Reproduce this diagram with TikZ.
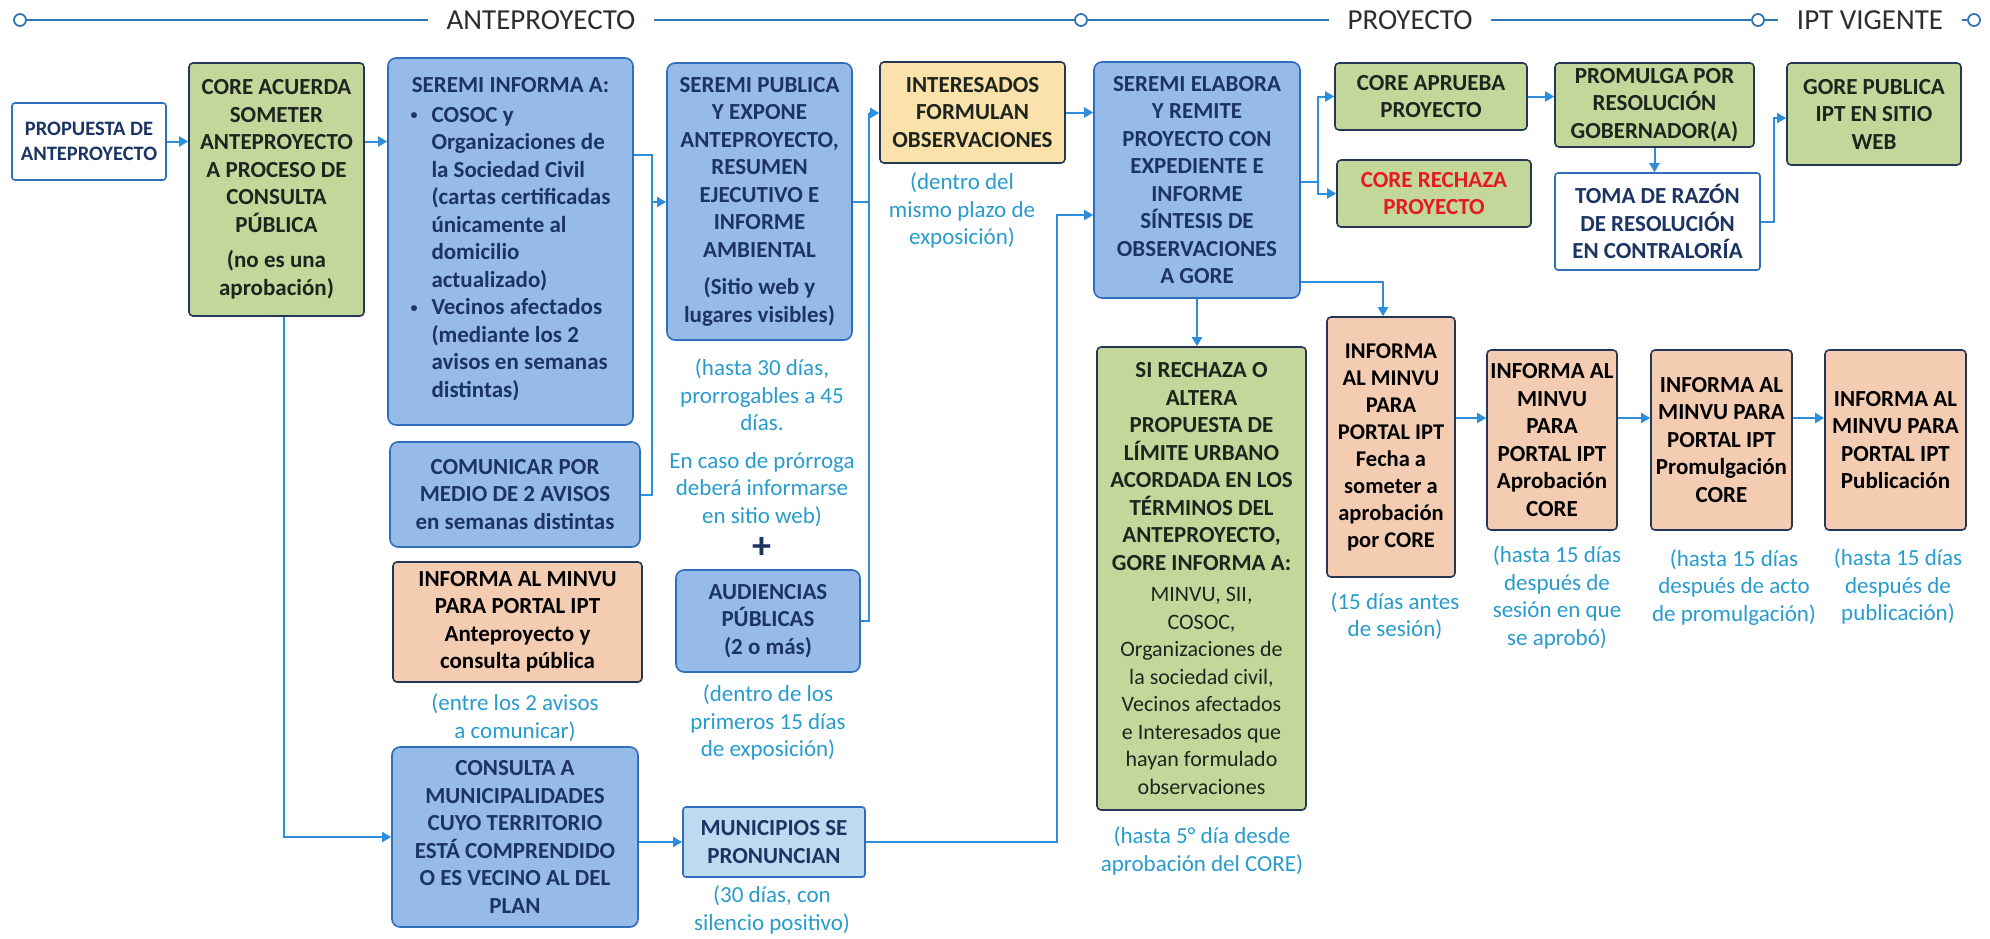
\documentclass[tikz,border=0pt]{standalone}
\usepackage{fontspec}
\setmainfont{Carlito}
\usetikzlibrary{arrows.meta}

\definecolor{bxblue}{RGB}{150,187,232}
\definecolor{bxlight}{RGB}{190,218,240}
\definecolor{bxgreen}{RGB}{196,215,155}
\definecolor{bxtan}{RGB}{243,204,178}
\definecolor{bxyellow}{RGB}{250,226,170}
\definecolor{bdblue}{RGB}{47,110,186}
\definecolor{bddark}{RGB}{38,55,85}
\definecolor{txnavy}{RGB}{28,52,100}
\definecolor{txdark}{RGB}{30,36,30}
\definecolor{txred}{RGB}{230,25,35}
\definecolor{capblue}{RGB}{40,155,205}
\definecolor{lnblue}{RGB}{45,143,219}
\definecolor{hdgray}{RGB}{45,45,45}
\definecolor{hdblue}{RGB}{46,117,182}

\newcommand{\reg}[1]{{\mdseries\fontsize{22}{27.5}\selectfont #1}}
\newcommand{\dotitem}{\raisebox{2.5pt}{\fontsize{14}{14}\selectfont\textbullet}}

\tikzset{
  box/.style={draw, line width=1.6pt, align=center, inner sep=2pt,
    font=\fontsize{23}{27.5}\selectfont\bfseries},
  bluebox/.style={box, rounded corners=8pt, fill=bxblue, draw=bdblue, text=txnavy},
  lightbox/.style={box, rounded corners=3pt, fill=bxlight, draw=bdblue, text=txnavy},
  whitebox/.style={box, rounded corners=3pt, fill=white, draw=bdblue, text=txnavy},
  greenbox/.style={box, rounded corners=4pt, fill=bxgreen, draw=bddark, text=txdark},
  tanbox/.style={box, rounded corners=4pt, fill=bxtan, draw=bddark, text=black},
  yellowbox/.style={box, rounded corners=4pt, fill=bxyellow, draw=bddark, text=txdark},
  note/.style={align=center, text=capblue, font=\fontsize{23}{27.5}\selectfont},
  link/.style={draw=lnblue, line width=2pt},
  hdr/.style={font=\fontsize{29}{34}\selectfont, text=hdgray, inner xsep=19pt, outer sep=0pt},
  dot/.style={circle, draw=hdblue, fill=white, line width=1.8pt, minimum size=12pt, inner sep=0pt},
  rule/.style={draw=hdblue, line width=2.2pt}
}

\begin{document}
\begin{tikzpicture}[x=1pt, y=-1pt, >={Triangle[length=9pt,width=10pt]}]
\useasboundingbox (0,0) rectangle (1990,938);

% fases
\node[dot] (d1) at (20,20) {};
\node[hdr] (ante) at (541,20) {ANTEPROYECTO};
\node[dot] (d2) at (1081,20) {};
\node[hdr] (proy) at (1410,20) {PROYECTO};
\node[dot] (d3) at (1758,20) {};
\node[hdr] (vig) at (1870,20) {IPT VIGENTE};
\node[dot] (d4) at (1974,20) {};
\draw[rule] (d1) -- (ante);
\draw[rule] (ante) -- (d2);
\draw[rule] (d2) -- (proy);
\draw[rule] (proy) -- (d3);
\draw[rule] (d3) -- (vig);
\draw[rule] (vig) -- (d4);

% anteproyecto
\node[whitebox, minimum width=154pt, minimum height=77pt, font=\fontsize{20.5}{25}\selectfont\bfseries] (prop) at (89,141.5) {PROPUESTA DE\\ANTEPROYECTO};
\node[greenbox, minimum width=175pt, minimum height=253pt] (core) at (276.5,189.5) {CORE ACUERDA\\SOMETER\\ANTEPROYECTO\\A PROCESO DE\\CONSULTA\\PÚBLICA\\[8pt](no es una\\aprobación)};
\node[bluebox, minimum width=245pt, minimum height=367pt] (inf) at (510.5,241.5) {SEREMI INFORMA A:\\[2pt]
  \begin{tabular}[t]{@{}l@{\hspace{14pt}}l@{}}
  \dotitem & COSOC y\\
   & Organizaciones de\\
   & la Sociedad Civil\\
   & (cartas certificadas\\
   & únicamente al\\
   & domicilio\\
   & actualizado)\\
  \dotitem & Vecinos afectados\\
   & (mediante los 2\\
   & avisos en semanas\\
   & distintas)
  \end{tabular}};
\node[bluebox, minimum width=250pt, minimum height=105pt] (com) at (515,494.5) {COMUNICAR POR\\MEDIO DE 2 AVISOS\\en semanas distintas};
\node[tanbox, minimum width=249pt, minimum height=120pt] (minvu1) at (517.5,622) {INFORMA AL MINVU\\PARA PORTAL IPT\\Anteproyecto y\\consulta pública};
\node[note] (nminvu1) at (515,717.5) {(entre los 2 avisos\\a comunicar)};
\node[bluebox, minimum width=246pt, minimum height=180pt] (cons) at (515,837) {CONSULTA A\\MUNICIPALIDADES\\CUYO TERRITORIO\\ESTÁ COMPRENDIDO\\O ES VECINO AL DEL\\PLAN};

\node[bluebox, minimum width=185pt, minimum height=277pt] (pub) at (759.5,201.5) {SEREMI PUBLICA\\Y EXPONE\\ANTEPROYECTO,\\RESUMEN\\EJECUTIVO E\\INFORME\\AMBIENTAL\\[10pt](Sitio web y\\lugares visibles)};
\node[note] (npub) at (762,442.5) {(hasta 30 días,\\prorrogables a 45\\días.\\[10pt]En caso de prórroga\\deberá informarse\\en sitio web)};
\node[text=txnavy, font=\fontsize{38}{38}\selectfont\bfseries] (plus) at (762,548) {+};
\node[bluebox, minimum width=184pt, minimum height=102pt] (aud) at (768,621) {AUDIENCIAS\\PÚBLICAS\\(2 o más)};
\node[note] (naud) at (768,722.5) {(dentro de los\\primeros 15 días\\de exposición)};
\node[lightbox, minimum width=182pt, minimum height=70pt] (mun) at (774,842) {MUNICIPIOS SE\\PRONUNCIAN};
\node[note] (nmun) at (772,910) {(30 días, con\\silencio positivo)};

\node[yellowbox, minimum width=185pt, minimum height=101pt] (int) at (972.5,112.5) {INTERESADOS\\FORMULAN\\OBSERVACIONES};
\node[note] (nint) at (962,210.5) {(dentro del\\mismo plazo de\\exposición)};

% proyecto
\node[bluebox, minimum width=206pt, minimum height=236pt] (ela) at (1197,180) {SEREMI ELABORA\\Y REMITE\\PROYECTO CON\\EXPEDIENTE E\\INFORME\\SÍNTESIS DE\\OBSERVACIONES\\A GORE};
\node[greenbox, minimum width=192pt, minimum height=67pt] (apr) at (1431,96.5) {CORE APRUEBA\\PROYECTO};
\node[greenbox, minimum width=194pt, minimum height=67pt, text=txred] (rech) at (1434,193.5) {CORE RECHAZA\\PROYECTO};
\node[greenbox, minimum width=199pt, minimum height=84pt] (prom) at (1654.5,105) {PROMULGA POR\\RESOLUCIÓN\\GOBERNADOR(A)};
\node[whitebox, minimum width=205pt, minimum height=97pt] (toma) at (1657.5,221.5) {TOMA DE RAZÓN\\DE RESOLUCIÓN\\EN CONTRALORÍA};
\node[greenbox, minimum width=174pt, minimum height=102pt] (gore) at (1874,114) {GORE PUBLICA\\IPT EN SITIO\\WEB};

\node[greenbox, minimum width=209pt, minimum height=463pt] (sirech) at (1201.5,578.5) {SI RECHAZA O\\ALTERA\\PROPUESTA DE\\LÍMITE URBANO\\ACORDADA EN LOS\\TÉRMINOS DEL\\ANTEPROYECTO,\\GORE INFORMA A:\\[4pt]\reg{MINVU, SII,}\\\reg{COSOC,}\\\reg{Organizaciones de}\\\reg{la sociedad civil,}\\\reg{Vecinos afectados}\\\reg{e Interesados que}\\\reg{hayan formulado}\\\reg{observaciones}};
\node[note] (nsirech) at (1202,851) {(hasta 5° día desde\\aprobación del CORE)};

\node[tanbox, minimum width=128pt, minimum height=260pt, font=\fontsize{22.5}{27}\selectfont\bfseries] (fecha) at (1391,447) {INFORMA\\AL MINVU\\PARA\\PORTAL IPT\\Fecha a\\someter a\\aprobación\\por CORE};
\node[note] (nfecha) at (1395,616) {(15 días antes\\de sesión)};
\node[tanbox, minimum width=130pt, minimum height=180pt, inner sep=0pt] (aprob) at (1552,440) {INFORMA AL\\MINVU\\PARA\\PORTAL IPT\\Aprobación\\CORE};
\node[note] (naprob) at (1557,597.5) {(hasta 15 días\\después de\\sesión en que\\se aprobó)};
\node[tanbox, minimum width=141pt, minimum height=180pt] (promu) at (1721.5,440) {INFORMA AL\\MINVU PARA\\PORTAL IPT\\Promulgación\\CORE};
\node[note] (npromu) at (1734,587.5) {(hasta 15 días\\después de acto\\de promulgación)};
\node[tanbox, minimum width=141pt, minimum height=180pt] (publ) at (1895.5,440) {INFORMA AL\\MINVU PARA\\PORTAL IPT\\Publicación};
\node[note] (npubl) at (1898,586.5) {(hasta 15 días\\después de\\publicación)};

% conectores
\coordinate (infjoin) at (652,202);
\coordinate (pubjoin) at (869,113);
\coordinate (munjoin) at (1057,215);
\coordinate (elajoin) at (1318,182);
\coordinate (tomajoin) at (1774,118);

\draw[link,->] (prop.east) -- (core.west |- prop.east);
\draw[link,->] (core.east |- prop.east) -- (inf.west |- prop.east);
\draw[link] (inf.east |- 0,155) -| (infjoin);
\draw[link] (com.east) -| (infjoin);
\draw[link,->] (infjoin) -- (pub.west |- infjoin);
\draw[link] (pub.east) -| (pubjoin);
\draw[link] (aud.east) -| (pubjoin);
\draw[link,->] (pubjoin) -- (int.west |- pubjoin);
\draw[link,->] ([xshift=7pt]core.south) |- (cons.west);
\draw[link,->] (cons.east |- mun.west) -- (mun.west);
\draw[link,->] (mun.east) -| (munjoin) -- (ela.west |- munjoin);
\draw[link,->] (int.east) -- (ela.west |- int.east);
\draw[link] (ela.east |- elajoin) -- (elajoin);
\draw[link,->] (elajoin) |- (apr.west);
\draw[link,->] (elajoin) |- (rech.west);
\draw[link,->] (apr.east) -- (prom.west |- apr.east);
\draw[link,->] (prom.south) -- (prom.south |- toma.north);
\draw[link,->] (toma.east) -| (tomajoin) -- (gore.west |- tomajoin);
\draw[link,->] (ela.south) -- (ela.south |- sirech.north);
\draw[link,->] (ela.east |- 0,282) -| ([xshift=-8pt]fecha.north);
\draw[link,->] (fecha.east |- 0,418) -- (aprob.west |- 0,418);
\draw[link,->] (aprob.east |- 0,418) -- (promu.west |- 0,418);
\draw[link,->] (promu.east |- 0,418) -- (publ.west |- 0,418);
\end{tikzpicture}
\end{document}
